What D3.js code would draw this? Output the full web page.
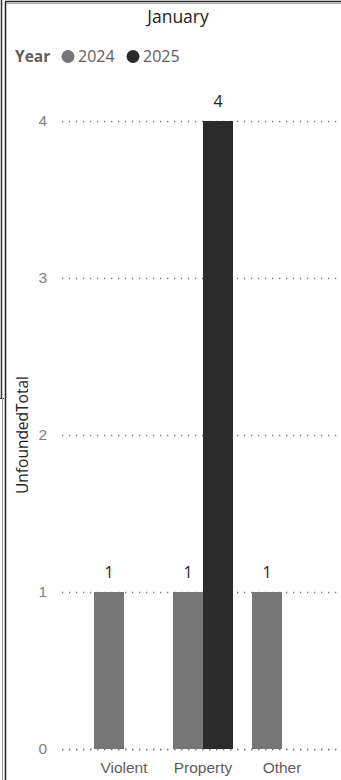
<!DOCTYPE html>
<html>
<head>
<meta charset="utf-8">
<script src="https://cdn.jsdelivr.net/npm/d3@7"></script>
<style>
  html, body { margin: 0; padding: 0; background: #fff; }
  svg { display: block; font-family: "Segoe UI", "Open Sans", "Noto Sans", sans-serif; }
</style>
</head>
<body>
<svg id="chart" width="341" height="780"></svg>
<script>
const title = "January";
const categories = ["Violent", "Property", "Other"];
const years = ["2024", "2025"];
const values2024 = [1, 1, 1];
const values2025 = [null, 4, null];
const yTicks = [0, 1, 2, 3, 4];
const yTitle = "UnfoundedTotal";
const legendTitle = "Year";
const colors = ["#767676", "#2b2b2b"];

const W = 341, H = 780;
const svg = d3.select("#chart");

// frame lines (edge of the report canvas)
const frame = svg.append("g");
frame.append("line").attr("x1", 1.5).attr("x2", 1.5).attr("y1", 0).attr("y2", 398).attr("stroke", "#333").attr("stroke-width", 1.5);
frame.append("line").attr("x1", 0).attr("x2", 4).attr("y1", 398.5).attr("y2", 398.5).attr("stroke", "#333").attr("stroke-width", 1);
frame.append("line").attr("x1", 5.5).attr("x2", 5.5).attr("y1", 2).attr("y2", H).attr("stroke", "#222").attr("stroke-width", 1.5);
frame.append("line").attr("x1", 2.5).attr("x2", 2.5).attr("y1", 398).attr("y2", H).attr("stroke", "#999").attr("stroke-width", 1);
frame.append("line").attr("x1", 5).attr("x2", W).attr("y1", 1.5).attr("y2", 1.5).attr("stroke", "#222").attr("stroke-width", 1.5);
frame.append("line").attr("x1", 6).attr("x2", W).attr("y1", 3.5).attr("y2", 3.5).attr("stroke", "#aaa").attr("stroke-width", 1);

// title
svg.append("text").attr("x", 178).attr("y", 23).attr("text-anchor", "middle")
  .attr("font-size", 17.5).attr("fill", "#252423").text(title);

// legend
const lg = svg.append("g").attr("transform", "translate(15,62)");
lg.append("text").attr("x", 0).attr("y", 0).attr("font-size", 15.5).attr("font-weight", "bold")
  .attr("fill", "#605e5c").text(legendTitle);
const legendX = [53, 118];
years.forEach((yr, i) => {
  lg.append("circle").attr("cx", legendX[i]).attr("cy", -5.5).attr("r", 6.5).attr("fill", colors[i]);
  lg.append("text").attr("x", legendX[i] + 10).attr("y", 0).attr("font-size", 16)
    .attr("fill", "#605e5c").text(yr);
});

// scales
const plotLeft = 62, plotRight = W;
const y = d3.scaleLinear().domain([0, 4]).range([749, 121]);
const x = d3.scaleBand().domain(categories).range([94, 312]).paddingInner(19 / 79).paddingOuter(0);
const xs = d3.scaleBand().domain(years).range([0, x.bandwidth()]);

// gridlines
const grid = svg.append("g");
yTicks.forEach(t => {
  grid.append("line").attr("x1", plotLeft).attr("x2", plotRight)
    .attr("y1", y(t) + 0.5).attr("y2", y(t) + 0.5)
    .attr("stroke", "#777").attr("stroke-width", 1.3).attr("stroke-dasharray", "1.3,5.7");
});

// y axis
const yAxis = d3.axisLeft(y).tickValues(yTicks).tickSize(0).tickPadding(0).tickFormat(d3.format("d"));
const yg = svg.append("g").attr("transform", "translate(47,0)").call(yAxis);
yg.select(".domain").remove();
yg.selectAll("text").attr("font-size", 15.5).attr("fill", "#808080").attr("font-family", "inherit");

// y title
svg.append("text").attr("transform", `translate(27.5,${y(2)}) rotate(-90)`)
  .attr("text-anchor", "middle").attr("font-size", 15.5).attr("fill", "#252423").text(yTitle);

// bars
const series = [values2024, values2025];
const bars = svg.append("g");
series.forEach((vals, si) => {
  categories.forEach((c, ci) => {
    const v = vals[ci];
    if (v == null) return;
    const bx = x(c) + xs(years[si]);
    bars.append("rect").attr("x", bx).attr("y", y(v)).attr("width", xs.bandwidth())
      .attr("height", y(0) - y(v)).attr("fill", colors[si]);
    bars.append("text").attr("x", bx + xs.bandwidth() / 2).attr("y", y(v) - 14)
      .attr("text-anchor", "middle").attr("font-size", 16).attr("fill", "#252423").text(v);
  });
});

// baseline dotted over bars
svg.append("line").attr("x1", plotLeft).attr("x2", plotRight)
  .attr("y1", y(0) + 0.5).attr("y2", y(0) + 0.5)
  .attr("stroke", "#777").attr("stroke-width", 1.3).attr("stroke-dasharray", "1.3,5.7");

// x axis
const xAxis = d3.axisBottom(x).tickSize(0).tickPadding(0);
const xg = svg.append("g").attr("transform", `translate(0,${y(0) + 24})`).call(xAxis);
xg.select(".domain").remove();
xg.selectAll("text").attr("font-size", 15.5).attr("fill", "#605e5c").attr("font-family", "inherit").attr("dy", 0);
</script>
</body>
</html>
